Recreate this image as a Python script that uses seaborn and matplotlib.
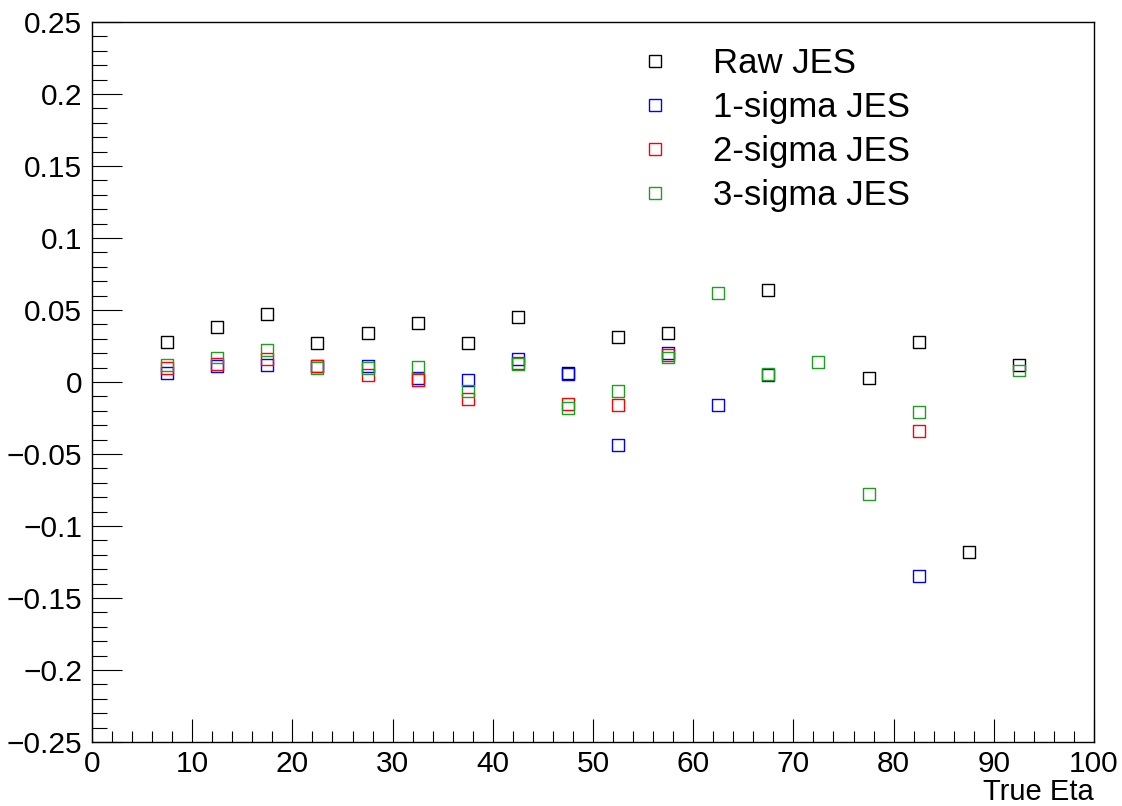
import numpy as np
import pandas as pd
import matplotlib
matplotlib.use("Agg")
import matplotlib.pyplot as plt
from matplotlib.lines import Line2D
from matplotlib.ticker import MultipleLocator, FuncFormatter
import seaborn as sns

# Bin centres in true eta
eta = [7.5, 12.5, 17.5, 22.5, 27.5, 32.5, 37.5, 42.5, 47.5,
       52.5, 57.5, 62.5, 67.5, 72.5, 77.5, 82.5, 87.5, 92.5]

nan = np.nan
raw_jes = [0.028, 0.038, 0.047, 0.027, 0.034, 0.041, 0.027, 0.045, 0.006,
           0.031, 0.034, nan, 0.064, nan, 0.003, 0.028, -0.118, 0.012]
sigma1_jes = [0.006, 0.011, 0.012, 0.011, 0.011, 0.003, 0.0014, 0.016, 0.0055,
              -0.044, 0.020, -0.016, 0.005, nan, nan, -0.135, nan, nan]
sigma2_jes = [0.0095, 0.0127, 0.016, 0.011, 0.005, 0.0014, -0.012, 0.013, -0.015,
              -0.016, 0.019, nan, nan, nan, nan, -0.034, nan, nan]
sigma3_jes = [0.012, 0.017, 0.022, 0.010, 0.0095, 0.0106, -0.0065, 0.0127, -0.018,
              -0.006, 0.017, 0.062, 0.0056, 0.014, -0.078, -0.021, nan, 0.008]

series_names = ["Raw JES", "1-sigma JES", "2-sigma JES", "3-sigma JES"]
series_values = [raw_jes, sigma1_jes, sigma2_jes, sigma3_jes]
series_colors = ["#000000", "#0000ff", "#ff0000", "#1f9e1f"]

frames = [pd.DataFrame({"eta": eta, "jes": vals, "series": name})
          for name, vals in zip(series_names, series_values)]
df = pd.concat(frames, ignore_index=True).dropna()

sns.set_style("ticks")
plt.rcParams["font.family"] = ["Liberation Sans", "DejaVu Sans"]
plt.rcParams["text.color"] = "black"
plt.rcParams["axes.labelcolor"] = "black"

fig = plt.figure(figsize=(11.22, 8.06), dpi=100)
ax = fig.add_axes([92 / 1122, 1 - 742 / 806, (1094 - 92) / 1122, (742 - 22) / 806])

palette = dict(zip(series_names, series_colors))
sns.scatterplot(data=df, x="eta", y="jes", hue="series", hue_order=series_names,
                palette=palette, marker="s", s=74, linewidth=1.0, legend=False, ax=ax)

# open squares: move the fill colour to the edge
for coll in ax.collections:
    fc = coll.get_facecolors()
    coll.set_edgecolors(fc)
    coll.set_facecolors("none")
    coll.set_linewidths(1.0)

ax.set_xlim(0, 100)
ax.set_ylim(-0.25, 0.25)

ax.xaxis.set_major_locator(MultipleLocator(10))
ax.xaxis.set_minor_locator(MultipleLocator(2))
ax.yaxis.set_major_locator(MultipleLocator(0.05))
ax.yaxis.set_minor_locator(MultipleLocator(0.01))


def fmt(v, pos):
    s = "%g" % round(v, 4)
    if s == "-0":
        s = "0"
    return s.replace("-", "\u2212")


ax.yaxis.set_major_formatter(FuncFormatter(fmt))
ax.xaxis.set_major_formatter(FuncFormatter(fmt))

ax.tick_params(axis="both", which="both", direction="in", width=0.8, colors="black",
               labelsize=21.5, top=False, right=False)
ax.tick_params(axis="y", which="major", length=21.5, pad=7)
ax.tick_params(axis="y", which="minor", length=10.8)
ax.tick_params(axis="x", which="major", length=16.3, pad=6)
ax.tick_params(axis="x", which="minor", length=8)

for sp in ax.spines.values():
    sp.set_visible(True)
    sp.set_linewidth(1.0)
    sp.set_color("black")

ax.set_xlabel("True Eta", loc="right", fontsize=21, labelpad=0)
ax.set_ylabel("")

handles = [Line2D([], [], marker="s", linestyle="none", markerfacecolor="none",
                  markeredgecolor=c, markersize=8.6, markeredgewidth=1.0)
           for c in series_colors]
ax.legend(handles, series_names, loc="upper left", frameon=False, fontsize=25,
          bbox_to_anchor=(637.6 / 1122, 1 - 47 / 806), bbox_transform=fig.transFigure,
          borderpad=0, borderaxespad=0, handlelength=1.0, handletextpad=1.17,
          labelspacing=0.32)

fig.savefig("out.png", dpi=100)
